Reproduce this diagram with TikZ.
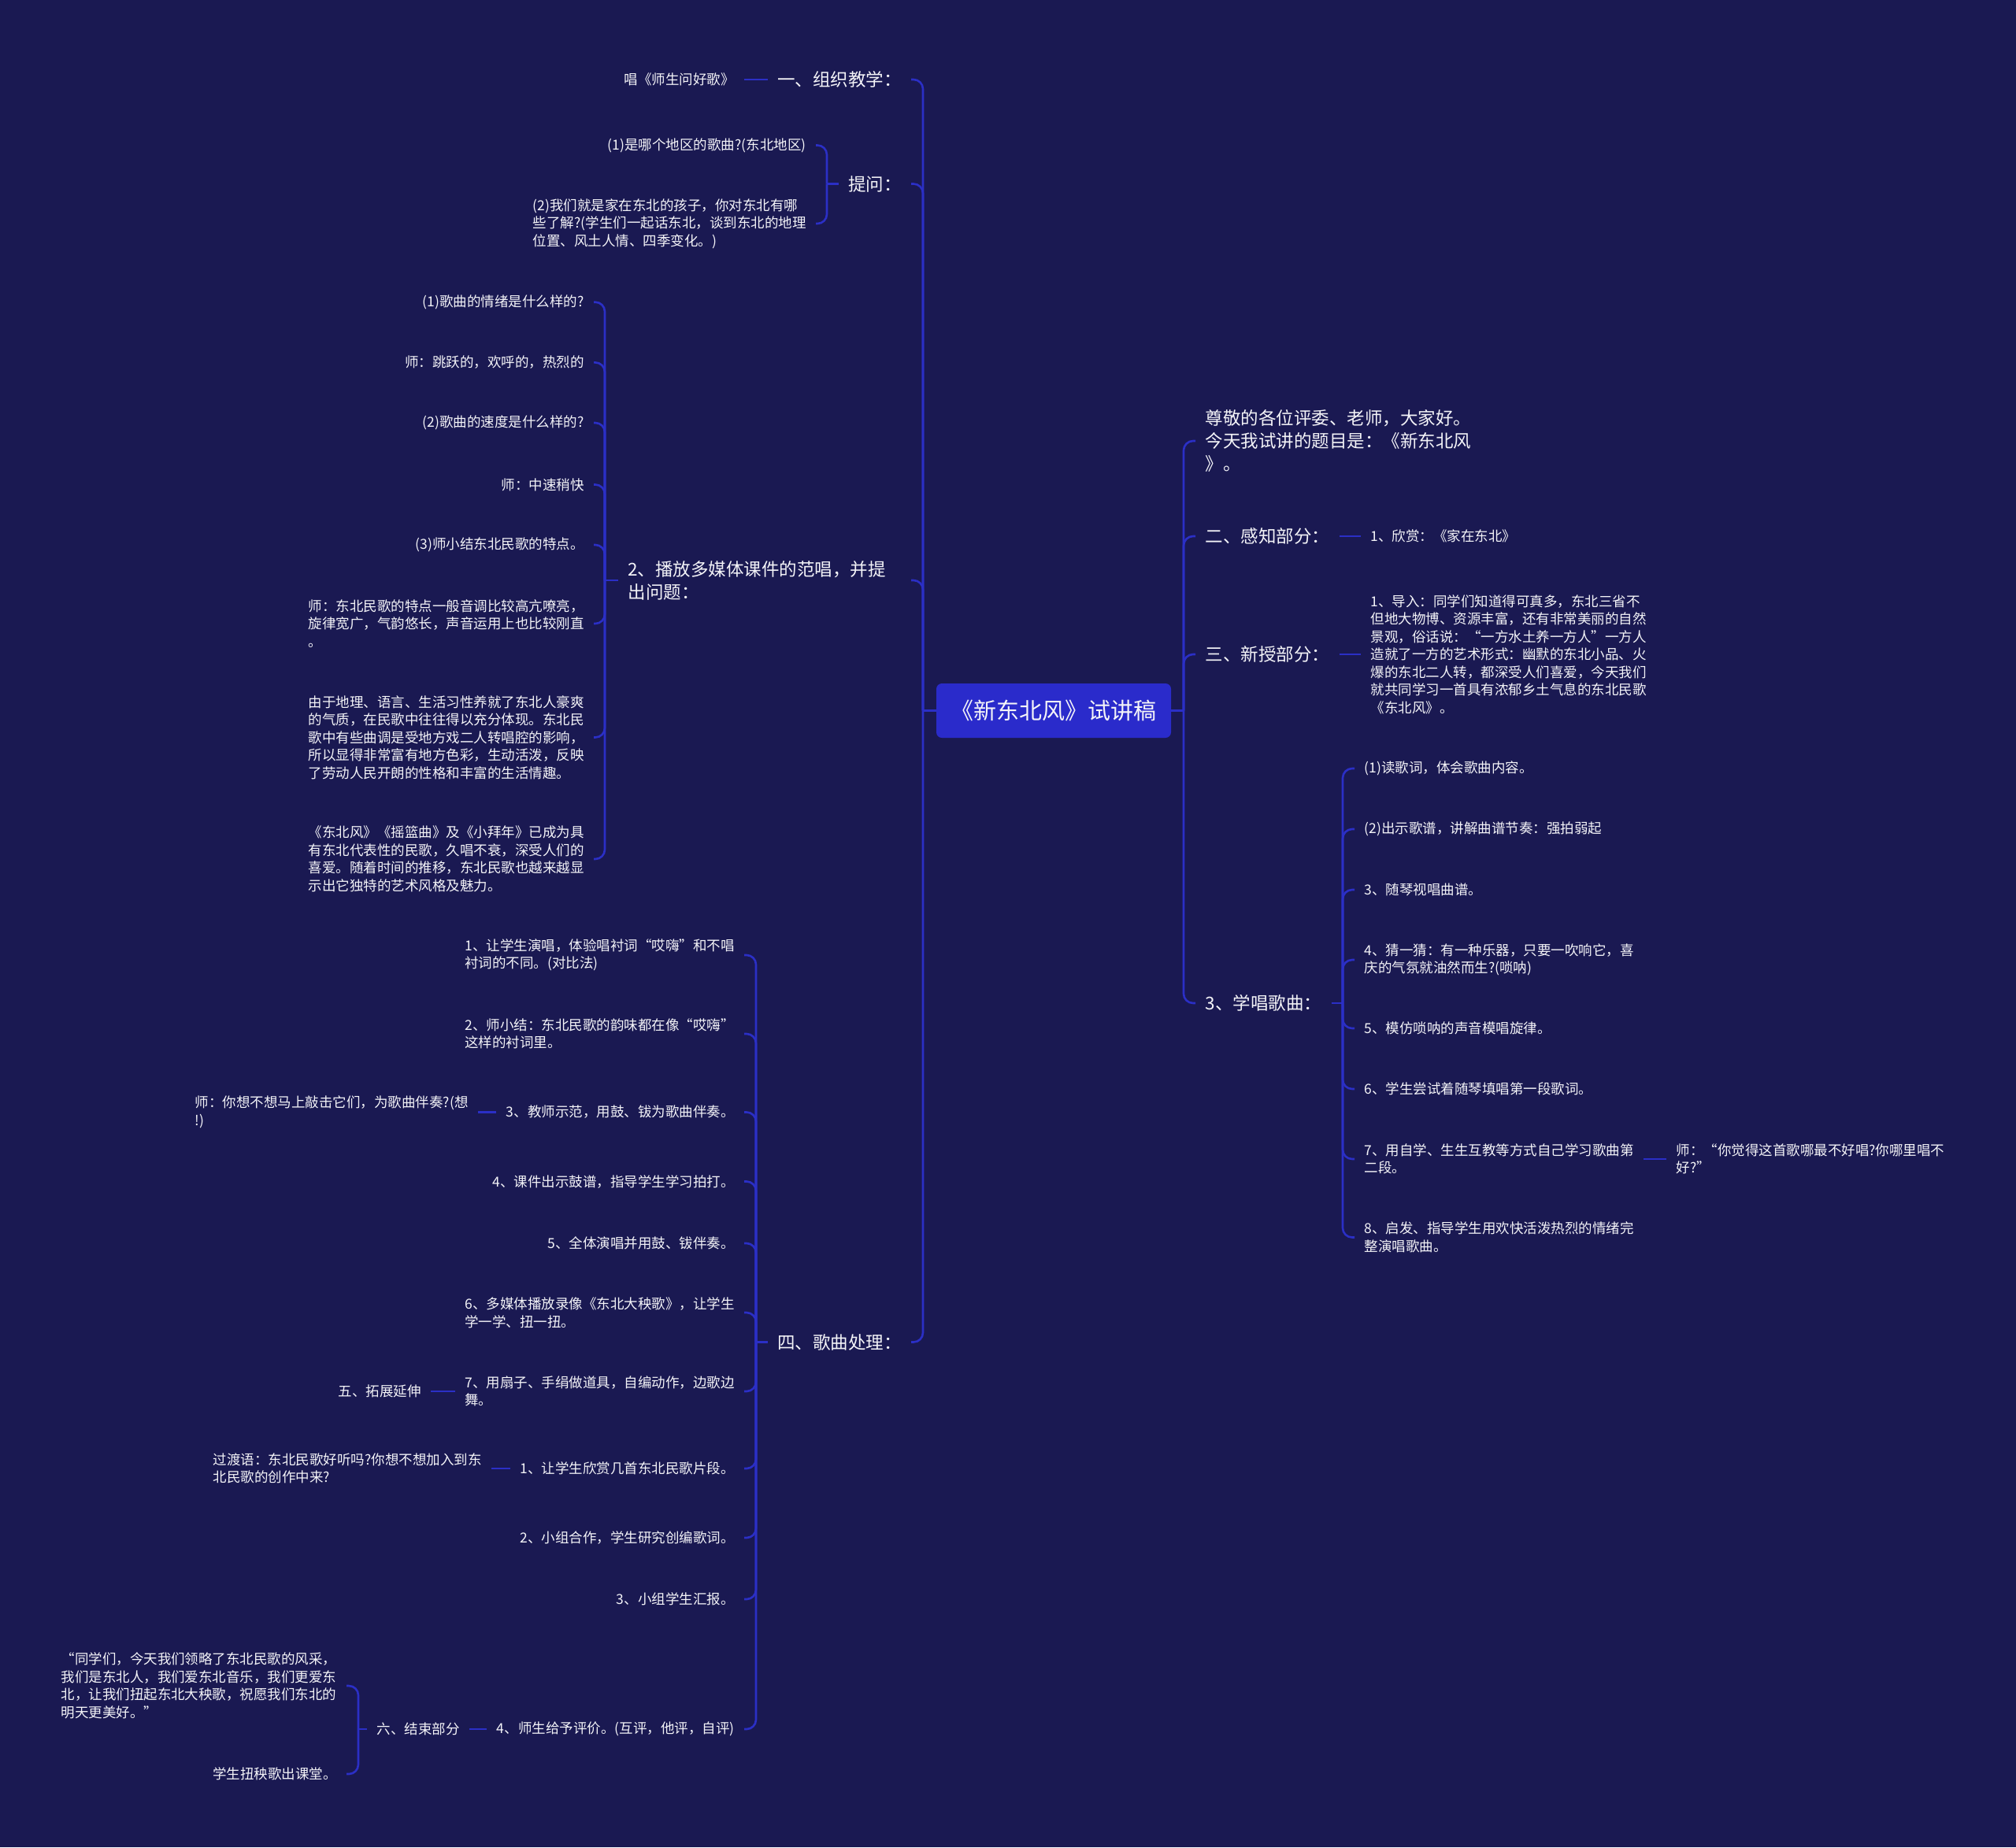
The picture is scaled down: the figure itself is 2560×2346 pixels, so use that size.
\documentclass[tikz,border=0pt]{standalone}
\usepackage{fontspec}
\setmainfont{Noto Sans CJK SC}
\definecolor{bgc}{HTML}{1A1952}
\definecolor{linec}{HTML}{2B2FC6}
\definecolor{rootc}{HTML}{2A2BCB}
\definecolor{txtc}{HTML}{F4F4F8}
\begin{document}
\begin{tikzpicture}[x=1pt,y=-1pt,
  every node/.style={text=txtc, inner xsep=12.5pt, inner ysep=3pt, outer sep=0pt},
  small/.style={font=\fontsize{17.5}{22.5}\selectfont},
  big/.style={font=\fontsize{22.5}{29}\selectfont},
  lft/.style={anchor=east, align=left},
  rgt/.style={anchor=west, align=left},
  conn/.style={draw=linec, line width=2.6pt, rounded corners=12pt}]
\fill[bgc] (0,0) rectangle (2560,2346);
\useasboundingbox (0,0) rectangle (2560,2346);

% trunk positions
\coordinate (tL) at (1172,0);
\coordinate (t2) at (1050,0);
\coordinate (t3) at (768,0);
\coordinate (t4) at (960,0);
\coordinate (t6) at (455,0);
\coordinate (tR) at (1503,0);
\coordinate (tR4) at (1705,0);

% root
\node[fill=rootc, rounded corners=7pt, minimum width=298pt, minimum height=69pt,
      inner xsep=0pt, font=\fontsize{29}{35}\selectfont] (root) at (1338,902.5) {《新东北风》试讲稿};

% left level 1
\node[big,lft] (n1) at (1157,101) {一、组织教学：};
\node[big,lft] (n2) at (1157,233.5) {提问：};
\node[big,lft,text width=347pt] (n3) at (1157,737) {2、播放多媒体课件的范唱，并提\\出问题：};
\node[big,lft] (n4) at (1157,1704.5) {四、歌曲处理：};

% n1 child
\node[small,lft] (n1a) at (945,101) {唱《师生问好歌》};

% n2 children
\node[small,lft] (n2a) at (1036,184.5) {(1)是哪个地区的歌曲?(东北地区)};
\node[small,lft] (n2b) at (1036,284) {(2)我们就是家在东北的孩子，你对东北有哪\\些了解?(学生们一起话东北，谈到东北的地理\\位置、风土人情、四季变化。)};

% n3 children
\node[small,lft] (n3a) at (754,383.7) {(1)歌曲的情绪是什么样的?};
\node[small,lft] (n3b) at (754,460.4) {师：跳跃的，欢呼的，热烈的};
\node[small,lft] (n3c) at (754,537) {(2)歌曲的速度是什么样的?};
\node[small,lft] (n3d) at (754,615.5) {师：中速稍快};
\node[small,lft] (n3e) at (754,692) {(3)师小结东北民歌的特点。};
\node[small,lft] (n3f) at (754,792) {师：东北民歌的特点一般音调比较高亢嘹亮，\\旋律宽广，气韵悠长，声音运用上也比较刚直\\。};
\node[small,lft] (n3g) at (754,936.5) {由于地理、语言、生活习性养就了东北人豪爽\\的气质，在民歌中往往得以充分体现。东北民\\歌中有些曲调是受地方戏二人转唱腔的影响，\\所以显得非常富有地方色彩，生动活泼，反映\\了劳动人民开朗的性格和丰富的生活情趣。};
\node[small,lft] (n3h) at (754,1091) {《东北风》《摇篮曲》及《小拜年》已成为具\\有东北代表性的民歌，久唱不衰，深受人们的\\喜爱。随着时间的推移，东北民歌也越来越显\\示出它独特的艺术风格及魅力。};

% n4 children
\node[small,lft] (n4a) at (945,1213) {1、让学生演唱，体验唱衬词“哎嗨”和不唱\\衬词的不同。(对比法)};
\node[small,lft] (n4b) at (945,1313) {2、师小结：东北民歌的韵味都在像“哎嗨”\\这样的衬词里。};
\node[small,lft] (n4c) at (945,1412.5) {3、教师示范，用鼓、钹为歌曲伴奏。};
\node[small,lft] (n4d) at (945,1500.5) {4、课件出示鼓谱，指导学生学习拍打。};
\node[small,lft] (n4e) at (945,1579) {5、全体演唱并用鼓、钹伴奏。};
\node[small,lft] (n4f) at (945,1667) {6、多媒体播放录像《东北大秧歌》，让学生\\学一学、扭一扭。};
\node[small,lft] (n4g) at (945,1767) {7、用扇子、手绢做道具，自编动作，边歌边\\舞。};
\node[small,lft] (n4h) at (945,1865) {1、让学生欣赏几首东北民歌片段。};
\node[small,lft] (n4i) at (945,1953) {2、小组合作，学生研究创编歌词。};
\node[small,lft] (n4j) at (945,2031) {3、小组学生汇报。};
\node[small,lft] (n4k) at (945,2196) {4、师生给予评价。(互评，他评，自评)};

% level 3 on left
\node[small,lft] (c3x) at (607,1412.5) {师：你想不想马上敲击它们，为歌曲伴奏?(想\\!)};
\node[small,lft] (c7x) at (547,1767) {五、拓展延伸};
\node[small,lft] (c8x) at (624,1865) {过渡语：东北民歌好听吗?你想不想加入到东\\北民歌的创作中来?};
\node[small,lft] (c11x) at (596,2196) {六、结束部分};
\node[small,lft] (e1) at (440,2141) {“同学们，今天我们领略了东北民歌的风采，\\我们是东北人，我们爱东北音乐，我们更爱东\\北，让我们扭起东北大秧歌，祝愿我们东北的\\明天更美好。”};
\node[small,lft] (e2) at (440,2253) {学生扭秧歌出课堂。};

% right level 1
\node[big,rgt] (r1) at (1518,560) {尊敬的各位评委、老师，大家好。\\今天我试讲的题目是：《新东北风\\》。};
\node[big,rgt] (r2) at (1518,681) {二、感知部分：};
\node[big,rgt] (r3) at (1518,831) {三、新授部分：};
\node[big,rgt] (r4) at (1518,1274) {3、学唱歌曲：};

\node[small,rgt] (r2a) at (1728,681) {1、欣赏：《家在东北》};
\node[small,rgt] (r3a) at (1728,831) {1、导入：同学们知道得可真多，东北三省不\\但地大物博、资源丰富，还有非常美丽的自然\\景观，俗话说：“一方水土养一方人”一方人\\造就了一方的艺术形式：幽默的东北小品、火\\爆的东北二人转，都深受人们喜爱，今天我们\\就共同学习一首具有浓郁乡土气息的东北民歌\\《东北风》。};

\node[small,rgt] (r4a) at (1720,976) {(1)读歌词，体会歌曲内容。};
\node[small,rgt] (r4b) at (1720,1053) {(2)出示歌谱，讲解曲谱节奏：强拍弱起};
\node[small,rgt] (r4c) at (1720,1130) {3、随琴视唱曲谱。};
\node[small,rgt] (r4d) at (1720,1219) {4、猜一猜：有一种乐器，只要一吹响它，喜\\庆的气氛就油然而生?(唢呐)};
\node[small,rgt] (r4e) at (1720,1306) {5、模仿唢呐的声音模唱旋律。};
\node[small,rgt] (r4f) at (1720,1383) {6、学生尝试着随琴填唱第一段歌词。};
\node[small,rgt] (r4g) at (1720,1472) {7、用自学、生生互教等方式自己学习歌曲第\\二段。};
\node[small,rgt] (r4h) at (1720,1571.5) {8、启发、指导学生用欢快活泼热烈的情绪完\\整演唱歌曲。};
\node[small,rgt] (r4gx) at (2116,1472) {师：“你觉得这首歌哪最不好唱?你哪里唱不\\好?”};

% connectors: root left
\draw[conn] (root.west) -- (root.west -| tL);
\foreach \c in {n1,n2,n3,n4} \draw[conn] (root.west -| tL) |- (\c.east);
\draw[conn] (n1.west) -- (n1a.east);
\draw[conn] (n2.west) -- (n2.west -| t2);
\foreach \c in {n2a,n2b} \draw[conn] (n2.west -| t2) |- (\c.east);
\draw[conn] (n3.west) -- (n3.west -| t3);
\foreach \c in {n3a,n3b,n3c,n3d,n3e,n3f,n3g,n3h} \draw[conn] (n3.west -| t3) |- (\c.east);
\draw[conn] (n4.west) -- (n4.west -| t4);
\foreach \c in {n4a,n4b,n4c,n4d,n4e,n4f,n4g,n4h,n4i,n4j,n4k} \draw[conn] (n4.west -| t4) |- (\c.east);
\draw[conn] (n4c.west) -- (c3x.east);
\draw[conn] (n4g.west) -- (c7x.east);
\draw[conn] (n4h.west) -- (c8x.east);
\draw[conn] (n4k.west) -- (c11x.east);
\draw[conn] (c11x.west) -- (c11x.west -| t6);
\foreach \c in {e1,e2} \draw[conn] (c11x.west -| t6) |- (\c.east);

% connectors: root right
\draw[conn] (root.east) -- (root.east -| tR);
\foreach \c in {r1,r2,r3,r4} \draw[conn] (root.east -| tR) |- (\c.west);
\draw[conn] (r2.east) -- (r2a.west);
\draw[conn] (r3.east) -- (r3a.west);
\draw[conn] (r4.east) -- (r4.east -| tR4);
\foreach \c in {r4a,r4b,r4c,r4d,r4e,r4f,r4g,r4h} \draw[conn] (r4.east -| tR4) |- (\c.west);
\draw[conn] (r4g.east) -- (r4gx.west);
\end{tikzpicture}
\end{document}
